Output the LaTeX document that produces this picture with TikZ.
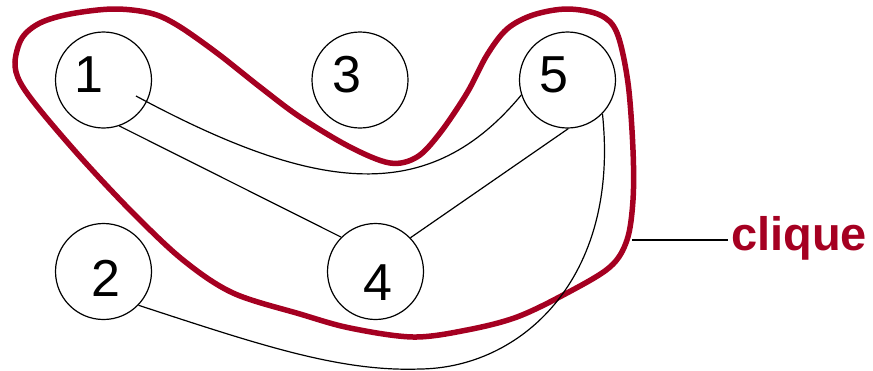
\documentclass[tikz,border=0pt]{standalone}
\usepackage{fontspec}
\setmainfont{Liberation Sans}
\usetikzlibrary{calc}
\definecolor{cliquered}{HTML}{A50021}
\tikzset{
  vert/.style={circle,draw=black,line width=1.2pt,minimum size=96pt,inner sep=0pt},
  num/.style={inner sep=0pt,font=\fontsize{52}{52}\selectfont},
  edgeline/.style={draw=black,line width=1.2pt},
  cliqueline/.style={draw=cliquered,line width=5.5pt},
}
\begin{document}
\begin{tikzpicture}[x=1pt,y=-1pt]
\useasboundingbox (0,0) rectangle (873,370);
% clique boundary
\draw[cliqueline] plot[smooth cycle,tension=0.55] coordinates {
 (15,62) (22,38) (40,23) (70,14) (113,9) (150,13) (177,25) (217,53) (260,87) (300,117)
 (350,147) (390,163) (417,157) (440,133) (467,93) (487,55) (507,29) (533,15) (567,9)
 (600,15) (617,33) (628,83) (633,150) (633,200) (627,240) (610,267) (567,293)
 (517,317) (467,330) (413,337) (350,328) (300,314) (233,293) (183,260) (133,213)
 (83,160) (40,110) (20,82)};
% vertices
\node[vert] (n1) at (103.5,80) {};
\node[vert] (n2) at (103.5,271.5) {};
\node[vert] (n3) at (360,80) {};
\node[vert] (n4) at (375.5,271.5) {};
\node[vert] (n5) at (567.5,80) {};
\node[num] (t1) at (89,75) {1};
\node[num] (t2) at (106,278) {2};
\node[num] (t3) at (347,75) {3};
\node[num] (t4) at (378,283) {4};
\node[num] (t5) at (554,75) {5};
% edges
\draw[edgeline] ($(n1.center)+(32.5,16)$) .. controls (320,195) and (430,205) .. (n5.198);
\draw[edgeline] (n1.-71) -- (n4.135);
\draw[edgeline] (n5.-89) -- (n4.44);
\draw[edgeline] (n2.-44) .. controls (260,345) and (340,372) .. (420,369)
  .. controls (520,368) and (620,280) .. (n5.-44);
% label
\node[inner sep=0pt,anchor=base west,text=cliquered,font=\fontsize{47}{47}\selectfont\bfseries] (clique) at (731,250) {clique};
\coordinate (lineL) at (632,240);
\draw[black,line width=1.8pt] (lineL) -- ([xshift=-3pt]lineL -| clique.west);
\end{tikzpicture}
\end{document}
